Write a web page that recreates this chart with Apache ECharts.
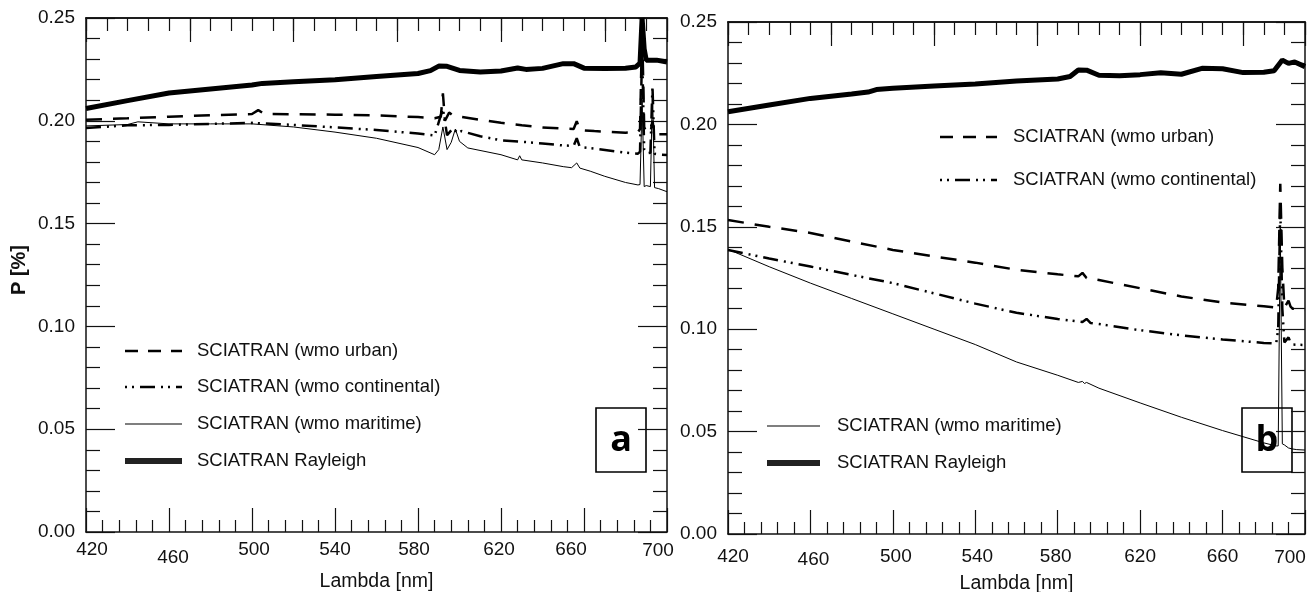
<!DOCTYPE html>
<html>
<head>
<meta charset="utf-8">
<script src="https://cdn.jsdelivr.net/npm/echarts@6/dist/echarts.min.js"></script>
<style>
  html, body { margin: 0; padding: 0; background: #fff; }
  #chart { width: 1313px; height: 592px; }
</style>
</head>
<body>
<div id="chart"></div>
<script>
// panel a
const rayAx = [420, 440, 460, 480, 500, 505, 520, 540, 560, 580, 586, 590, 594, 600, 610, 620, 628, 632, 640, 650, 655, 660, 670, 680, 685, 687, 688, 689, 690, 695, 700]
const rayAy = [0.206, 0.2098, 0.2135, 0.2155, 0.2174, 0.2182, 0.219, 0.22, 0.2215, 0.223, 0.2244, 0.2266, 0.2265, 0.2245, 0.2237, 0.2242, 0.2257, 0.225, 0.2255, 0.2278, 0.2278, 0.2256, 0.2254, 0.2256, 0.2262, 0.228, 0.25, 0.235, 0.2295, 0.2295, 0.2286]

const urbAx = [420, 440, 460, 480, 500, 503, 506, 520, 540, 560, 580, 588, 591, 592, 593, 595, 597, 600, 610, 620, 630, 640, 650, 655, 656.5, 658, 665, 680, 686, 687, 688, 689, 690, 692, 693, 694, 696, 700]
const urbAy = [0.2005, 0.2012, 0.202, 0.2027, 0.2033, 0.2052, 0.2033, 0.2032, 0.203, 0.2027, 0.2018, 0.2012, 0.202, 0.2134, 0.2, 0.204, 0.2025, 0.202, 0.2005, 0.199, 0.1978, 0.1968, 0.1962, 0.196, 0.1998, 0.1955, 0.195, 0.1942, 0.1945, 0.196, 0.245, 0.197, 0.1945, 0.194, 0.2, 0.1935, 0.1935, 0.1935]

const conAx = [420, 440, 460, 480, 500, 520, 540, 560, 580, 588, 592, 594, 597, 599, 601, 610, 620, 630, 640, 650, 655, 656.5, 658, 665, 680, 686, 687, 688, 689, 690, 692, 693, 694, 696, 700]
const conAy = [0.1965, 0.1978, 0.198, 0.1985, 0.199, 0.198, 0.1968, 0.1955, 0.1938, 0.1928, 0.206, 0.193, 0.1965, 0.194, 0.195, 0.1925, 0.1905, 0.1898, 0.189, 0.188, 0.1878, 0.1915, 0.1872, 0.1865, 0.1845, 0.184, 0.185, 0.235, 0.186, 0.1842, 0.1845, 0.217, 0.184, 0.1836, 0.1834]

const marAx = [420, 440, 445, 460, 480, 500, 520, 540, 560, 580, 588, 590, 592, 594, 596, 598, 600, 604, 620, 628, 629, 630, 640, 650, 654, 656.5, 658, 663, 670, 680, 686, 687, 688, 689, 690, 692, 693, 694, 696, 700]
const marAy = [0.1975, 0.1982, 0.1995, 0.1985, 0.1985, 0.1985, 0.197, 0.1945, 0.1915, 0.187, 0.1835, 0.186, 0.197, 0.186, 0.1895, 0.196, 0.19, 0.1868, 0.1835, 0.181, 0.183, 0.181, 0.1795, 0.1777, 0.1772, 0.1795, 0.177, 0.1755, 0.173, 0.17, 0.1688, 0.169, 0.21, 0.168, 0.1685, 0.168, 0.215, 0.1675, 0.167, 0.1655]

// panel b
const rayBx = [420, 440, 460, 480, 488, 492, 500, 520, 540, 560, 580, 586, 590, 594, 600, 610, 620, 630, 640, 650, 660, 670, 680, 685, 689, 692, 695, 700]
const rayBy = [0.2062, 0.2095, 0.2127, 0.2148, 0.2158, 0.217, 0.2176, 0.2188, 0.2197, 0.2212, 0.2222, 0.2234, 0.2266, 0.2265, 0.224, 0.2237, 0.2243, 0.2252, 0.2245, 0.2274, 0.2272, 0.2253, 0.2255, 0.2262, 0.2314, 0.2298, 0.2305, 0.2282]

const urbBx = [420, 440, 460, 480, 500, 520, 540, 560, 580, 590, 592, 594, 600, 620, 640, 660, 680, 686, 687, 688, 689, 690, 692, 693, 694, 696, 700]
const urbBy = [0.1533, 0.15, 0.147, 0.1428, 0.1387, 0.1355, 0.1325, 0.129, 0.1268, 0.1258, 0.1275, 0.125, 0.124, 0.12, 0.116, 0.113, 0.1112, 0.1105, 0.12, 0.171, 0.13, 0.1105, 0.114, 0.111, 0.11, 0.1098, 0.1094]

const conBx = [420, 440, 460, 480, 500, 520, 540, 560, 580, 592, 594, 596, 600, 620, 640, 660, 680, 686, 687, 688, 689, 690, 692, 693, 694, 696, 700]
const conBy = [0.1387, 0.1345, 0.1306, 0.1265, 0.1225, 0.1175, 0.1125, 0.108, 0.105, 0.1035, 0.105, 0.103, 0.1025, 0.0995, 0.097, 0.095, 0.0933, 0.093, 0.1, 0.16, 0.11, 0.0935, 0.096, 0.0935, 0.0925, 0.0924, 0.0923]

const marBx = [420, 440, 460, 480, 500, 520, 540, 560, 580, 590, 592, 593, 594, 600, 620, 640, 660, 680, 686, 687, 688, 689, 690, 692, 694, 696, 700]
const marBy = [0.139, 0.1305, 0.1225, 0.115, 0.1075, 0.1, 0.0925, 0.084, 0.0775, 0.074, 0.0745, 0.0735, 0.074, 0.0712, 0.064, 0.057, 0.0505, 0.0445, 0.043, 0.043, 0.15, 0.044, 0.0435, 0.042, 0.0415, 0.0412, 0.041]

const names = ['SCIATRAN (wmo urban)', 'SCIATRAN (wmo continental)', 'SCIATRAN (wmo maritime)', 'SCIATRAN Rayleigh']

const FONT = '"Liberation Sans", Arial, sans-serif'
const INK = '#111'

function pairs(xs, ys) {
  return xs.map((x, i) => [x, ys[i]])
}

const styles = [
  { width: 2.5, type: [16, 11] },
  { width: 2.5, type: [15, 6, 2, 5, 2, 6] },
  { width: 1, type: 'solid' },
  { width: 5, type: 'solid' }
]

// panel p uses xAxis 2p / yAxis 2p
function lineSeries(p, k, data) {
  return {
    name: names[k],
    type: 'line',
    xAxisIndex: p * 2,
    yAxisIndex: p * 2,
    data: data,
    symbol: 'none',
    color: '#000',
    lineStyle: Object.assign({ color: '#000' }, styles[k]),
    z: k === 3 ? 3 : 2,
    animation: false
  }
}

// the original tick labels sit a little off their ticks: [dx, dy] nudges
const labelNudge = [
  { 420: [6, 0], 460: [4, 8], 500: [2, 0], 540: [0, 0], 580: [-4, 0], 620: [-2, 0], 660: [-13, 0], 700: [-9, 1] },
  { 420: [5, 0], 460: [3, 3], 500: [3, 0], 540: [2, 0], 580: [-2, 0], 620: [0, 0], 660: [0, 0], 700: [-15, 1] }
]

const tickStyle = { color: INK, width: 1.2 }
const axLine = { onZero: false, lineStyle: { color: INK, width: 1.5 } }

function xAxes(grid) {
  const rich = {}
  Object.keys(labelNudge[grid]).forEach(v => {
    const [dx, dy] = labelNudge[grid][v]
    rich['v' + v] = {
      color: INK, fontSize: 19, fontFamily: FONT,
      padding: [dy, dx < 0 ? -2 * dx : 0, 0, dx > 0 ? 2 * dx : 0]
    }
  })
  return [{
    type: 'value', gridIndex: grid, position: 'bottom',
    min: 420, max: 700, interval: 40,
    axisLine: axLine,
    axisTick: { inside: true, length: 24, lineStyle: tickStyle },
    minorTick: { show: true, splitNumber: 5, length: 12, lineStyle: tickStyle },
    splitLine: { show: false },
    axisLabel: {
      color: INK, fontSize: 19, fontFamily: FONT, margin: grid === 0 ? 8 : 13,
      formatter: v => '{v' + v + '|' + v + '}', rich: rich
    },
    name: 'Lambda [nm]', nameLocation: 'middle', nameGap: grid === 0 ? 35 : 36,
    nameTextStyle: { color: INK, fontSize: 19.5, fontFamily: FONT }
  }, {
    type: 'value', gridIndex: grid, position: 'top',
    min: 420, max: 700, interval: 50,
    axisLine: axLine,
    axisTick: { inside: true, length: 24, lineStyle: tickStyle },
    axisLabel: { show: false }, splitLine: { show: false }
  }]
}

function yAxes(grid, withName) {
  const base = {
    type: 'value', gridIndex: grid,
    min: 0, max: 0.25, interval: 0.05,
    axisLine: { show: true, onZero: false, lineStyle: { color: INK, width: 1.5 } },
    axisTick: { inside: true, length: 29, lineStyle: tickStyle },
    minorTick: { show: true, splitNumber: 5, length: 14, lineStyle: tickStyle },
    splitLine: { show: false }
  }
  const left = Object.assign({}, base, {
    position: 'left',
    axisLabel: { color: INK, fontSize: 19, fontFamily: FONT, margin: 11, formatter: v => v.toFixed(2) }
  })
  if (withName) {
    Object.assign(left, {
      name: 'P [%]', nameLocation: 'middle', nameGap: 57, nameRotate: 90,
      nameTextStyle: { color: INK, fontSize: 20, fontWeight: 'bold', fontFamily: FONT, padding: [0, 0, 0, 10] }
    })
  }
  const right = Object.assign({}, base, { position: 'right', axisLabel: { show: false } })
  return [left, right]
}

// overlay grid that only carries the 10 nm top ticks
function overlayAxes(grid) {
  return {
    x: {
      type: 'value', gridIndex: grid, position: 'top',
      min: 420, max: 700, interval: 10,
      axisLine: axLine,
      axisTick: { inside: true, length: 13, lineStyle: tickStyle },
      axisLabel: { show: false }, splitLine: { show: false }
    },
    y: { type: 'value', gridIndex: grid, min: 0, max: 0.25, show: false }
  }
}

// legend samples: [series index, x0, x1, textX, centreY]
const legendRows = [
  [0, 125, 182, 197, 351], [1, 125, 182, 197, 387], [2, 125, 182, 197, 424], [3, 125, 182, 197, 461],
  [0, 940, 997, 1013, 137], [1, 940, 997, 1013, 180],
  [2, 767, 820, 837, 426], [3, 767, 820, 837, 463]
]

function legendGraphics() {
  const out = []
  legendRows.forEach(([k, x0, x1, tx, y]) => {
    const st = styles[k]
    out.push({
      type: 'line', z: 50,
      shape: { x1: x0, y1: y, x2: x1, y2: y },
      style: {
        stroke: k === 3 ? '#222' : '#000',
        lineWidth: k === 3 ? 6 : (k === 2 ? 1.2 : 2.6),
        lineDash: Array.isArray(st.type) ? (k === 0 ? [13, 10] : st.type) : null,
        lineDashOffset: k === 1 ? 21 : 0
      }
    })
    out.push({
      type: 'text', z: 50, x: tx, y: y,
      style: { text: names[k], fill: INK, font: '18.5px ' + FONT, verticalAlign: 'middle' }
    })
  })
  return out
}

function letterBox(x, y, ch) {
  return {
    type: 'group', x: x, y: y, z: 100,
    children: [
      { type: 'rect', shape: { x: 0, y: 0, width: 50, height: 64 }, style: { fill: '#fff', stroke: '#000', lineWidth: 1.6 } },
      { type: 'text', x: 25, y: 33, style: { text: ch, fill: '#000', font: 'bold 36px "Open Sans", "Noto Sans", sans-serif', align: 'center', verticalAlign: 'middle' } }
    ]
  }
}

const ovA = overlayAxes(2)
const ovB = overlayAxes(3)
const gridA = { left: 86, top: 18, width: 581, height: 514, outerBoundsMode: 'none', containLabel: false }
const gridB = { left: 728, top: 22, width: 577, height: 512, outerBoundsMode: 'none', containLabel: false }

const chart = echarts.init(document.getElementById('chart'))
chart.setOption({
  backgroundColor: '#fff',
  animation: false,
  grid: [gridA, gridB, Object.assign({}, gridA), Object.assign({}, gridB)],
  xAxis: xAxes(0).concat(xAxes(1), [ovA.x, ovB.x]),
  yAxis: yAxes(0, true).concat(yAxes(1, false), [ovA.y, ovB.y]),
  graphic: legendGraphics().concat([letterBox(596, 408, 'a'), letterBox(1242, 408, 'b')]),
  series: [
    lineSeries(0, 0, pairs(urbAx, urbAy)),
    lineSeries(0, 1, pairs(conAx, conAy)),
    lineSeries(0, 2, pairs(marAx, marAy)),
    lineSeries(0, 3, pairs(rayAx, rayAy)),
    lineSeries(1, 0, pairs(urbBx, urbBy)),
    lineSeries(1, 1, pairs(conBx, conBy)),
    lineSeries(1, 2, pairs(marBx, marBy)),
    lineSeries(1, 3, pairs(rayBx, rayBy))
  ]
})
</script>
</body>
</html>
